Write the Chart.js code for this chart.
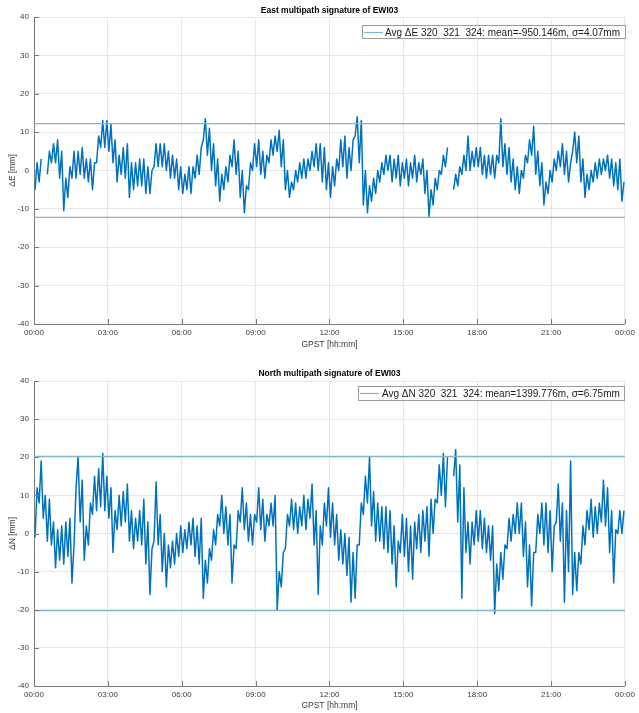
<!DOCTYPE html>
<html><head><meta charset="utf-8">
<script src="https://cdn.jsdelivr.net/npm/chart.js@4/dist/chart.umd.min.js"></script>
<style>
html,body{margin:0;padding:0;background:#fff;}
#wrap{position:relative;width:639px;height:713px;overflow:hidden;}
canvas{position:absolute;left:0;}
</style></head><body>
<div id="wrap">
<canvas id="c1" width="639" height="357" style="top:0"></canvas>
<canvas id="c2" width="639" height="356" style="top:357px"></canvas>
</div>
<script>
// ---- data (10-minute bins: lowest / highest value read in each bin, mm; null = gap) ----
const binHours = 1 / 6;
const xTickHours = [0, 3, 6, 9, 12, 15, 18, 21, 24];
const xTickLabels = ['00:00','03:00','06:00','09:00','12:00','15:00','18:00','21:00','00:00'];
const yTicks = [-40, -30, -20, -10, 0, 10, 20, 30, 40];

const eastLo = [
  -5,-3,null,-1,2,2,-2,-10.5,-7,-2,   -2,-1,-2,-3,-5,2,6,6,5,2,
  -3,-1,-2,-7,-5,-4,-4,-6,-6,1,       1,1,0,-2,-2,-5,-6,-5,-6,-2,
  -1,8,4,0,-4,-8,-5,-3,1,-1,          -7,-11,-5,0,1,-1,-2,2,4,5,
  1,-5,-7,-5,-3,-2,-2,0,1,0,          -3,-5,-7,-4,0,1,-2,0,9,2,
  -9,-11,-8,-6,-3,-1,0,-3,-2,-4,      -2,-4,-2,-3,-1,-6,-12,-9,-5,-1,
  1,null,-5,-4,-1,0,0,1,1,-1,         -2,-1,-2,2,1,-1,-3,-5,-6,-2,
  2,4,-1,-4,-9,-6,-3,0,1,-1,          -3,5,2,-3,-7,-5,-3,-2,-1,0,
  -2,-4,-5,-8];
const eastHi = [
  2,3,null,5,7,8,5,-2,1,5,            5,6,3,3,2,9,13,13,12,8,
  4,6,7,2,2,3,3,1,0,7,                7,7,5,4,3,1,-1,1,1,4,
  6,13.5,11,7,3,-1,1,4,8,5,           0,-4,2,7,8,5,4,8,9,10.5,
  8,0,-3,0,2,3,3,5,7,7,               6,2,1,3,8,9,6,8,14,13,
  0,-4,-2,0,2,4,4,3,4,2,              3,2,4,2,3,0,-5,-2,0,4,
  6,null,-1,1,4,9,5,6,6,4,            4,4,4,13.5,7,6,3,1,0,4,
  8,11.5,5,2,-3,0,3,5,7,5,            2,10,9,3,-1,0,2,3,3,4,
  3,2,3,-3];

const northLo = [
  -1,8,4,-2,-3,-9,-7,-8,-6,-13,       12,3,-7,-3,5,6,7,6,4,-5,
  1,2,3,-2,-4,-2,-3,-8,-16,-2,        -3,-10,-14,-9,-8,-6,-5,-4,-3,-6,
  -8,-17,-13,-7,-3,2,0,-3,-13,-4,     3,1,-2,-3,3,1,-2,2,2,-20,
  -14,-4,2,1,0,2,1,4,-3,-16,          -3,2,-1,-3,-7,-8,-11,-18,-17,-3,
  5,8,2,-2,-2,-4,-5,-8,-14,-5,        -6,-10,-12,-4,-5,-2,-6,0,8,10,
  7,null,15,3,-17,-5,-8,-3,-2,-4,     -5,-7,-21,-15,-12,-4,-2,0,0,-6,
  -14,-19,-5,0,-3,-5,-10,3,-2,-18,    -10,-16,-15,-8,-3,1,-1,0,3,2,
  -5,-13,0,0];
const northHi = [
  12,19,10,9,3,1,2,3,4,-3,            20,14,2,8,15,17,21,15,12,6,
  10,11,13,6,4,6,9,3,-4,13.5,         5,0,-3,-2,0,2,1,3,4,2,
  4,-7,-4,1,5,10,7,5,-3,6,            12,8,5,5,12,9,5,8,10,-10,
  -5,5,9,8,7,10,9,13,6,2,             8,12,8,5,1,0,-1,-5,-3,8,
  15,20,11,8,7,7,6,2,-2,5,            4,2,3,5,6,7,9,9,18,21,
  20,null,22,18,12,3,3,6,6,4,         2,2,-8,-5,-3,4,5,8,8,3,
  -3,-5,5,8,8,6,2,13,8,6,             19,-5,-5,2,6,9,7,8,14,12,
  6,1,6,6];

// +/- 3 sigma lines
const eastLimits = [12.21, -12.21];
const northLimits = [20.25, -20.25];

const eastLabel = 'Avg \u0394E 320  321  324: mean=-950.146m, \u03c3=4.07mm';
const northLabel = 'Avg \u0394N 320  321  324: mean=1399.776m, \u03c3=6.75mm';

// ---- styling ----
const FAM = '"Liberation Sans", Arial, Helvetica, sans-serif';
const dataColor = '#0072BD';
const limitColor = '#7fb8cc';
const tickColor = '#3a3a3a';
const gridColor = '#e6e6e6';
const axisColor = '#7a7a7a';

function buildSeries(lo, hi) {
  const pts = [];
  for (let i = 0; i < lo.length; i++) {
    const t0 = i * binHours;
    if (lo[i] === null || hi[i] === null) { pts.push({x: t0 + binHours / 2, y: null}); continue; }
    pts.push({x: t0 + binHours * 0.25, y: lo[i]});
    pts.push({x: t0 + binHours * 0.75, y: hi[i]});
  }
  return pts;
}

const deco = {
  id: 'deco',
  afterDraw(chart, args, o) {
    const {ctx, chartArea: a, scales: {x, y}} = chart;
    ctx.save();
    ctx.strokeStyle = axisColor; ctx.lineWidth = 1;
    xTickHours.forEach(v => {
      const px = Math.round(x.getPixelForValue(v)) + 0.5;
      ctx.beginPath(); ctx.moveTo(px, a.bottom); ctx.lineTo(px, a.bottom - 5); ctx.stroke();
    });
    yTicks.forEach(v => {
      const py = Math.round(y.getPixelForValue(v)) + 0.5;
      ctx.beginPath(); ctx.moveTo(a.left, py); ctx.lineTo(a.left + 5, py); ctx.stroke();
    });
    // title
    ctx.font = 'bold 8.5px ' + FAM; ctx.fillStyle = '#000';
    ctx.textAlign = 'center'; ctx.textBaseline = 'middle';
    ctx.fillText(o.title, (a.left + a.right) / 2, o.titleY);
    // legend
    const L = o.legend;
    ctx.fillStyle = '#fff'; ctx.fillRect(L.x1, L.y1, L.x2 - L.x1, L.y2 - L.y1);
    ctx.strokeStyle = '#9a9a9a'; ctx.strokeRect(L.x1 + 0.5, L.y1 + 0.5, L.x2 - L.x1, L.y2 - L.y1);
    const my = Math.round((L.y1 + L.y2) / 2) + 0.5;
    ctx.strokeStyle = limitColor; ctx.lineWidth = 1.2;
    ctx.beginPath(); ctx.moveTo(L.lx1, my); ctx.lineTo(L.lx2, my); ctx.stroke();
    ctx.fillStyle = '#1a1a1a'; ctx.font = '10px ' + FAM; ctx.textAlign = 'left';
    ctx.fillText(chart.data.datasets[0].label, L.tx, my + 0.5);
    ctx.restore();
  }
};

function makeChart(id, lo, hi, limits, label, yTitle, decoOpts, pad, xTitlePad) {
  const line = v => [{x: 0, y: v}, {x: 24, y: v}];
  return new Chart(document.getElementById(id), {
    type: 'line',
    data: {
      datasets: [
        {label: label, data: line(limits[0]), borderColor: limitColor, borderWidth: 1.2, pointRadius: 0, fill: false},
        {label: label + ' ', data: line(limits[1]), borderColor: limitColor, borderWidth: 1.2, pointRadius: 0, fill: false},
        {label: 'samples', data: buildSeries(lo, hi), borderColor: dataColor, borderWidth: 1.5, pointRadius: 0, spanGaps: false, tension: 0, fill: false, borderJoinStyle: 'round'}
      ]
    },
    options: {
      responsive: false, animation: false, devicePixelRatio: 1,
      layout: {padding: pad},
      plugins: {legend: {display: false}, tooltip: {enabled: false}, deco: decoOpts},
      scales: {
        x: {
          type: 'linear', min: 0, max: 24,
          afterBuildTicks: s => { s.ticks = xTickHours.map(v => ({value: v})); },
          afterFit: s => { s.height = pad.xh; },
          ticks: {callback: (v, i) => xTickLabels[i], font: {family: FAM, size: 8}, color: tickColor, padding: 4, maxRotation: 0, autoSkip: false},
          grid: {color: gridColor, drawTicks: false},
          border: {display: true, color: axisColor},
          title: {display: true, text: 'GPST [hh:mm]', font: {family: FAM, size: 8.5}, color: tickColor, padding: {top: 0, bottom: xTitlePad}}
        },
        y: {
          min: -40, max: 40,
          afterBuildTicks: s => { s.ticks = yTicks.map(v => ({value: v})); },
          afterFit: s => { s.width = 34; },
          ticks: {font: {family: FAM, size: 8}, color: tickColor, padding: 5},
          grid: {color: gridColor, drawTicks: false},
          border: {display: true, color: axisColor},
          title: {display: true, text: yTitle, font: {family: FAM, size: 8.5}, color: tickColor, padding: {top: 8, bottom: 0}}
        }
      }
    },
    plugins: [deco]
  });
}

makeChart('c1', eastLo, eastHi, eastLimits, eastLabel, '\u0394E [mm]',
  {title: 'East multipath signature of EWI03', titleY: 11,
   legend: {x1: 362, y1: 25, x2: 625, y2: 38, lx1: 364, lx2: 383, tx: 385}},
  {left: 0, right: 9, top: 17, bottom: 0, xh: 33}, 7);

makeChart('c2', northLo, northHi, northLimits, northLabel, '\u0394N [mm]',
  {title: 'North multipath signature of EWI03', titleY: 17,
   legend: {x1: 358, y1: 29, x2: 624, y2: 43, lx1: 360, lx2: 379, tx: 382}},
  {left: 0, right: 9, top: 24, bottom: 0, xh: 27}, 2);
</script>
</body></html>
